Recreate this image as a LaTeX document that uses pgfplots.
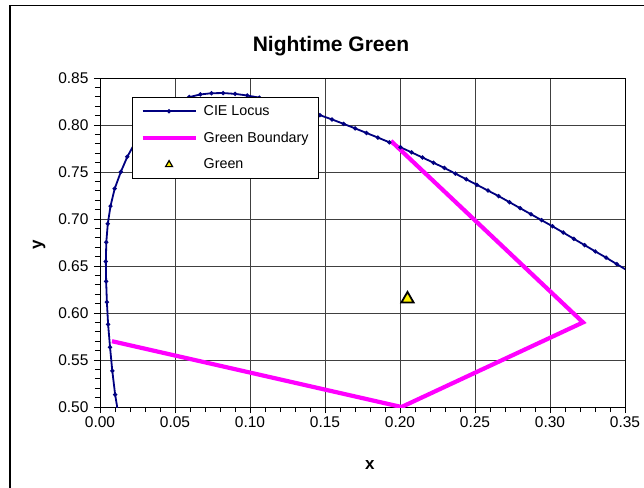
\documentclass[border=0pt]{standalone}
\usepackage{fontspec}
\setmainfont{Liberation Sans}
\usepackage{pgfplots}
\pgfplotsset{compat=1.18}
\definecolor{navyc}{RGB}{0,0,128}
\definecolor{pinkc}{RGB}{255,0,255}
\pgfplotsset{
  legmid/.style={legend image code/.code={\draw[##1, mark repeat=2, mark phase=2] plot coordinates {(0pt,0pt) (26.5pt,0pt) (53pt,0pt)};}},
  legtri/.style={legend image code/.code={\draw[##1, mark size=4pt, mark options={fill=yellow, draw=black, line width=1.2pt}, mark repeat=2, mark phase=2] plot coordinates {(0pt,0pt) (26.5pt,0pt) (53pt,0pt)};}},
  legline/.style={legend image code/.code={\draw[##1] (0pt,0pt) -- (53pt,0pt);}},
}
\begin{document}
\begin{tikzpicture}
\begin{axis}[
  at={(0,0)}, anchor=south west,
  scale only axis, width=525pt, height=329pt,
  xmin=0, xmax=0.35, ymin=0.5, ymax=0.85,
  xtick={0,0.05,0.1,0.15,0.2,0.25,0.3,0.35},
  ytick={0.5,0.55,0.6,0.65,0.7,0.75,0.8,0.85},
  minor tick num=4, tick pos=left,
  tick align=outside, major tick length=6pt, minor tick length=5pt,
  tick style={black, line width=0.8pt},
  grid=major, major grid style={black!75, line width=0.8pt},
  axis line style={black, line width=0.9pt},
  /pgf/number format/.cd, fixed, fixed zerofill, precision=2, assume math mode=true,
  /pgfplots/.cd,
  tick label style={font=\fontsize{15.5}{18}\selectfont},
  yticklabel style={xshift=-2pt},
  xlabel={x}, ylabel={y},
  label style={font=\fontsize{17}{20}\selectfont\bfseries},
  xlabel style={at={(axis description cs:0.514,-0.176)}, anchor=center},
  ylabel style={at={(axis description cs:-0.116,0.492)}, anchor=center},
  title={Nightime Green},
  title style={font=\fontsize{21}{24}\selectfont\bfseries, at={(axis description cs:0.44,1.079)}, anchor=center},
  legend style={at={(axis description cs:0.061,0.942)}, anchor=north west,
    draw=black, line width=0.9pt, fill=white,
    font=\fontsize{14.3}{17}\selectfont, inner xsep=8pt, inner ysep=6pt, row sep=11pt,
    /tikz/every odd column/.append style={column sep=4pt}},
  legend cell align=left,
]
\addplot[navyc, line width=1.8pt, mark=*, mark size=1.1pt, legmid]
coordinates {
(0.0160,0.4625) (0.0127,0.4878) (0.0101,0.5131) (0.0082,0.5384)
(0.0067,0.5635) (0.0054,0.5880) (0.0046,0.6115) (0.0041,0.6337) (0.0039,0.6548)
(0.0042,0.6753) (0.0052,0.6949) (0.0070,0.7137) (0.0098,0.7323) (0.0139,0.7502)
(0.0182,0.7662) (0.0229,0.7798) (0.0280,0.7918) (0.0333,0.8024) (0.0389,0.8120)
(0.0453,0.8197) (0.0522,0.8255) (0.0595,0.8297) (0.0669,0.8325) (0.0743,0.8338)
(0.0821,0.8340) (0.0901,0.8331) (0.0981,0.8314) (0.1062,0.8291) (0.1142,0.8262)
(0.1223,0.8227) (0.1304,0.8189) (0.1385,0.8148) (0.1466,0.8105) (0.1547,0.8059)
(0.1624,0.8012) (0.1701,0.7964) (0.1777,0.7915) (0.1853,0.7866) (0.1929,0.7816)
(0.2003,0.7763) (0.2077,0.7709) (0.2150,0.7654) (0.2223,0.7599) (0.2296,0.7543)
(0.2369,0.7483) (0.2441,0.7423) (0.2513,0.7363) (0.2586,0.7303) (0.2658,0.7243)
(0.2730,0.7179) (0.2801,0.7115) (0.2873,0.7051) (0.2944,0.6987) (0.3016,0.6923)
(0.3088,0.6856) (0.3159,0.6789) (0.3231,0.6722) (0.3302,0.6655) (0.3374,0.6589)
(0.3445,0.6520) (0.3517,0.6451) (0.3588,0.6382)
};
\addlegendentry{CIE Locus}
\addplot[pinkc, line width=4.2pt, line join=miter, legline]
coordinates {(0.194,0.783) (0.322,0.590) (0.201,0.500) (0.008,0.570)};
\addlegendentry{Green Boundary}
\addplot[only marks, mark=triangle*, mark size=7pt,
  mark options={fill=yellow, draw=black, line width=1.8pt}, legtri]
coordinates {(0.205,0.615)};
\addlegendentry{Green}
\end{axis}
\pgfresetboundingbox
\useasboundingbox (-100pt,-80pt) rectangle (544pt,407pt);
\draw[line width=1.2pt] (-90pt,-120pt) -- (-90pt,401.5pt) -- (620pt,401.5pt);
\end{tikzpicture}
\end{document}
